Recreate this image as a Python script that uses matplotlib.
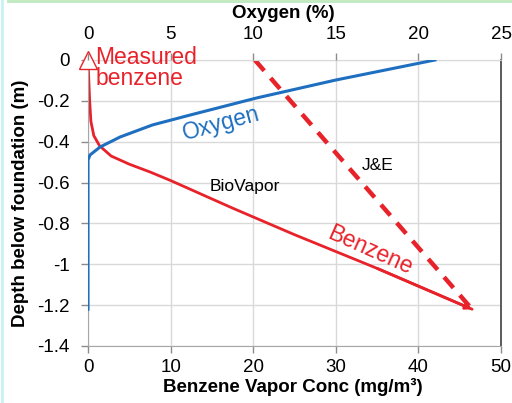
import matplotlib
matplotlib.use("Agg")
import matplotlib.pyplot as plt
from matplotlib.lines import Line2D

plt.rcParams['font.family'] = ['Liberation Sans', 'DejaVu Sans']

# Benzene vapour profile (BioVapor model): conc (mg/m3) vs depth (m)
benz_conc = [0.0, 0.1, 0.2, 0.35, 0.7, 1.4, 2.8, 5.0, 7.5, 10.0, 17.5, 25.0, 35.0, 46.5]
benz_depth = [0.0, -0.1, -0.2, -0.3, -0.37, -0.42, -0.47, -0.51, -0.548, -0.59, -0.725, -0.855, -1.02, -1.22]

# Johnson & Ettinger linear profile: conc (mg/m3) vs depth (m)
je_conc = [20.2, 46.5]
je_depth = [0.0, -1.22]

# Oxygen profile: O2 (%) vs depth (m)
o2_pct = [0.0, 0.0, 0.12, 0.73, 1.94, 3.9, 6.2, 10.2, 15.0, 21.0]
o2_depth = [-1.22, -0.49, -0.465, -0.426, -0.377, -0.318, -0.269, -0.186, -0.098, 0.0]

# Measured benzene at the foundation
meas_conc = [0.0]
meas_depth = [0.0]

bottom_ticks = [0, 10, 20, 30, 40, 50]
top_ticks = [0, 5, 10, 15, 20, 25]
depth_ticks = [0, -0.2, -0.4, -0.6, -0.8, -1, -1.2, -1.4]
depth_labels = ['0', '-0.2', '-0.4', '-0.6', '-0.8', '-1', '-1.2', '-1.4']

RED = '#e8222a'
BLUE = '#1f6fc0'
GRID = '#d9d9d9'
TICKC = '#8c8c8c'
TICKFS = 13.5
LABFS = 13.5

fig = plt.figure(figsize=(5.12, 4.03), dpi=100)
ax = fig.add_axes([88 / 512, 1 - 346 / 403, 413 / 512, 286 / 403])
ax2 = ax.twiny()

ax.set_xlim(0, 50)
ax.set_ylim(-1.4, 0)
ax2.set_xlim(0, 25)

ax.set_xticks(bottom_ticks)
ax.set_yticks(depth_ticks)
ax.set_yticklabels(depth_labels)
ax2.set_xticks(top_ticks)

ax.grid(True, color=GRID, linewidth=1.0)
ax.set_axisbelow(True)

for a in (ax, ax2):
    a.tick_params(labelsize=TICKFS, length=5, width=1, color=TICKC)
    for s in a.spines.values():
        s.set_visible(False)
ax.tick_params(axis='x', pad=4)
ax.tick_params(axis='y', pad=8)
ax2.tick_params(axis='x', pad=7)

ax.spines['left'].set_visible(True)
ax.spines['left'].set_color('#a6a6a6')
ax.spines['bottom'].set_visible(True)
ax.spines['bottom'].set_color('#a6a6a6')
ax.spines['right'].set_visible(True)
ax.spines['right'].set_color('#404040')
ax.spines['right'].set_linewidth(1.2)
ax.spines['top'].set_visible(True)
ax.spines['top'].set_color(GRID)

# Curves
ax.plot(benz_conc, benz_depth, color=RED, linewidth=2.0, solid_capstyle='round')
ax.annotate('', xy=(benz_conc[-1], benz_depth[-1]),
            xytext=(benz_conc[-2], benz_depth[-2]),
            arrowprops=dict(arrowstyle='-|>', color=RED, lw=2.0,
                            mutation_scale=9, shrinkA=0, shrinkB=0))
ax.plot(je_conc, je_depth, color=RED, linewidth=3.2, linestyle=(0, (3.2, 2.2)))
ax2.plot(o2_pct, o2_depth, color=BLUE, linewidth=2.2)
ax.plot(meas_conc, meas_depth, marker='^', markersize=13, markerfacecolor='white',
        markeredgecolor=RED, markeredgewidth=1.0, linestyle='none', clip_on=False,
        zorder=5)

# Axis titles
ax.set_xlabel('Benzene Vapor Conc (mg/m³)', fontsize=LABFS, fontweight='bold')
ax.xaxis.label.set_va('center')
ax.xaxis.set_label_coords(0.495, -0.145)
ax.set_ylabel('Depth below foundation (m)', fontsize=LABFS, fontweight='bold')
ax.yaxis.label.set_va('center')
ax.yaxis.set_label_coords(-0.163, 0.5)
ax2.set_xlabel('Oxygen (%)', fontsize=LABFS, fontweight='bold')
ax2.xaxis.label.set_va('center')
ax2.xaxis.set_label_coords(0.474, 1.164)

# In-plot annotations
ax.text(0.9, -0.04, 'Measured\nbenzene', color=RED, fontsize=16.5, ha='left', va='center',
        linespacing=0.9)
ax2.text(8.05, -0.313, 'Oxygen', color=BLUE, fontsize=16.5, rotation=15,
         ha='center', va='center')
ax.text(34.1, -0.93, 'Benzene', color=RED, fontsize=16.5, rotation=-24,
        ha='center', va='center')
ax.text(35.1, -0.514, 'J&E', color='black', fontsize=12.5, ha='center', va='center')
ax.text(19.0, -0.62, 'BioVapor', color='black', fontsize=12.5, ha='center', va='center')

# Thin coloured frame edges
fig.add_artist(Line2D([8 / 512, 1], [1 - 1 / 403, 1 - 1 / 403], color='#bfe9bf',
                      linewidth=2, transform=fig.transFigure))
fig.add_artist(Line2D([1.5 / 512, 1.5 / 512], [0, 1], color='#c9f2f4',
                      linewidth=2, transform=fig.transFigure))

fig.savefig('out.png', dpi=100)
